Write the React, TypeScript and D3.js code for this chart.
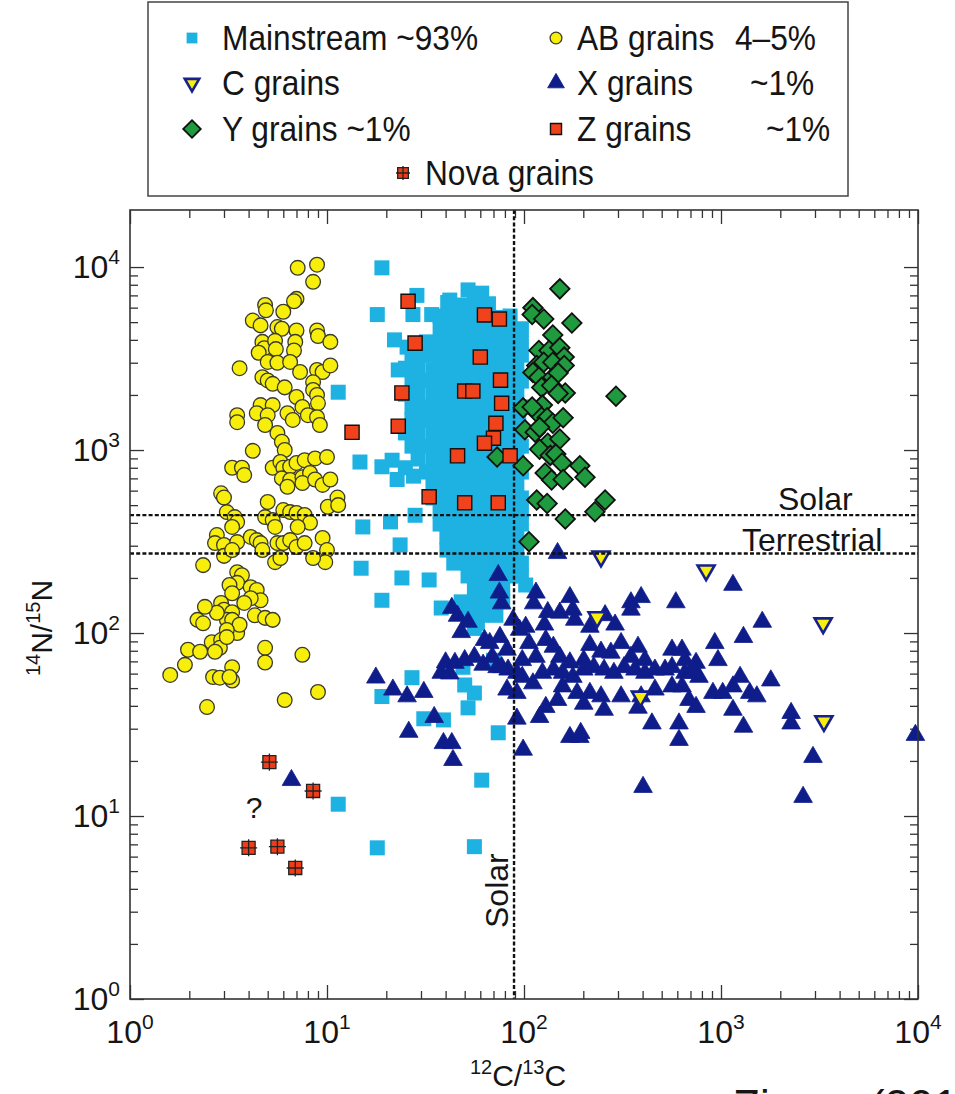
import { useEffect, useRef } from 'react';
import * as d3 from 'd3';

// each grain: [12C/13C, 14N/15N]
type Grain = [number, number];

const mainstream: Grain[] = [
  [52, 7500], [61, 7200],
  [41, 6400], [48, 6200], [56, 6500], [66, 6300],
  [37.5, 5400], [44, 5300], [52, 5500], [61, 5400], [72, 5300], [85, 5400],
  [37.5, 4600], [44, 4500], [52, 4600], [61, 4550], [72, 4600], [85, 4500], [97, 4600],
  [32, 3900], [37.5, 3850], [44, 3900], [52, 3900], [61, 3850], [72, 3900], [85, 3900], [97, 3850],
  [27, 3300], [32, 3300], [37.5, 3250], [44, 3300], [52, 3300], [61, 3300], [72, 3250], [85, 3300], [97, 3300],
  [25, 2800], [29, 2800], [34.5, 2750], [40.6, 2800], [48, 2800], [56, 2780], [66, 2800], [78, 2800], [92, 2800],
  [27, 2380], [32, 2400], [37.5, 2380], [44, 2380], [52, 2350], [61, 2380], [72, 2380], [85, 2380], [97, 2380],
  [25, 2020], [29, 2000], [34.5, 2020], [40.6, 2020], [48, 2020], [56, 2000], [66, 2020], [78, 2020], [92, 2020],
  [27, 1720], [32, 1720], [37.5, 1700], [44, 1720], [52, 1720], [61, 1720], [72, 1700], [85, 1720], [97, 1720],
  [27, 1460], [32, 1460], [37.5, 1460], [44, 1440], [52, 1460], [61, 1460], [72, 1460], [85, 1460], [94, 1460],
  [25, 1240], [29, 1240], [34.5, 1240], [40.6, 1220], [48, 1240], [56, 1240], [66, 1240], [78, 1240], [92, 1240],
  [27, 1050], [32, 1050], [37.5, 1050], [44, 1040], [52, 1050], [61, 1050], [72, 1050], [85, 1050], [97, 1050],
  [29, 893], [34.5, 890], [40.6, 893], [48, 893], [56, 880], [66, 893], [78, 893], [92, 893],
  [32, 758], [37.5, 758], [44, 760], [52, 758], [61, 758], [72, 750], [85, 758], [97, 758],
  [34.5, 644], [40.6, 644], [48, 640], [56, 644], [66, 644], [78, 644], [92, 644],
  [34.5, 547], [40.6, 547], [48, 547], [56, 540], [66, 547], [78, 547], [92, 547], [97, 547],
  [37.5, 464], [44, 464], [52, 464], [61, 460], [72, 464], [85, 464], [97, 464],
  [37.5, 394], [44, 394], [52, 390], [61, 394], [72, 394], [85, 394], [97, 394],
  [40.6, 335], [48, 335], [56, 335], [66, 330], [78, 335], [92, 335],
  [40.6, 284], [48, 284], [56, 284], [66, 284], [78, 280], [92, 284],
  [44, 241], [52, 241], [61, 241], [72, 241], [85, 241], [97, 241],
  [52, 205], [61, 205], [72, 205], [85, 205], [97, 205],
  [56, 174], [66, 174], [78, 174],
  [48, 148], [56, 148], [66, 148], [78, 148],
  [52, 125], [61, 125], [72, 125],
  [56, 106],
  // scattered grains
  [19, 9900], [18, 5500], [28.6, 7000], [27.3, 5500], [34, 5500], [42, 6600], [25.5, 3650],
  [22, 4000], [23, 2740], [11.4, 2070], [14.7, 860], [21.4, 880], [19, 810], [22.7, 690],
  [25, 800], [27.5, 720], [28, 440], [15.2, 380], [21, 405], [23.5, 303], [14.9, 226],
  [19, 151], [33, 195], [38, 137], [24, 200], [58, 113], [102, 183], [27, 57], [19, 45],
  [31, 34], [39, 33.5], [50, 52], [56, 47], [52, 39], [49, 65], [70, 71], [74, 28.5],
  [61, 15.7], [11.4, 11.6], [18, 6.7], [56, 6.8],
];

const abGrains: Grain[] = [
  [7.1, 9900], [8.9, 10300], [8.5, 8300], [7.0, 6700], [6.8, 6500], [4.85, 6200], [4.9, 5800],
  [6.0, 5700], [4.2, 5100], [4.6, 4800], [5.6, 4700], [5.9, 4600], [7.0, 4500], [8.9, 4500],
  [9.0, 4200], [10.4, 3900], [3.6, 2800], [4.7, 3900], [4.8, 3600], [5.45, 3950], [5.5, 3560],
  [6.9, 3900], [6.8, 3500], [4.5, 3400], [5.0, 3030], [5.6, 3000], [6.5, 3030], [7.3, 2670],
  [8.9, 2740], [9.5, 2670], [10.4, 2900], [4.7, 2500], [5.0, 2400], [5.3, 2300], [6.1, 2200],
  [7.0, 1950], [8.5, 2350], [8.5, 2130], [8.9, 2000], [9.0, 1800], [3.5, 1550], [3.5, 1420],
  [4.6, 1760], [5.3, 1760], [4.4, 1590], [5.0, 1550], [6.3, 1590], [6.7, 1460], [7.5, 1720],
  [8.0, 1550], [8.9, 1510], [9.2, 1370], [4.85, 1370], [5.6, 1240], [5.9, 1110], [6.1, 1000],
  [4.2, 990], [5.3, 800], [5.8, 860], [6.0, 800], [6.5, 810], [7.0, 850], [7.7, 880], [8.7, 900],
  [10, 915], [3.3, 800], [3.7, 800], [3.8, 730], [5.9, 700], [6.5, 686], [6.3, 630], [7.5, 710],
  [8.2, 750], [7.5, 660], [8.7, 690], [9.5, 645], [10.4, 690], [2.9, 580], [3.0, 550], [5.0, 520],
  [10.1, 490], [11.3, 550], [11.4, 500], [3.1, 458], [3.4, 430], [3.5, 404], [3.3, 380],
  [4.85, 430], [5.3, 414], [5.45, 380], [6.0, 470], [6.5, 458], [7.0, 453], [7.7, 442], [8.2, 400],
  [7.1, 380], [2.76, 343], [2.7, 310], [3.0, 303], [3.5, 314], [4.1, 335], [4.4, 322], [4.6, 310],
  [4.7, 284], [5.6, 310], [6.0, 310], [6.5, 322], [7.0, 295], [7.7, 310], [5.45, 244], [5.8, 257],
  [9.5, 331], [10, 284], [9.8, 244], [8.5, 257], [2.35, 235], [3.0, 264], [3.3, 284], [3.5, 215],
  [3.7, 207], [3.5, 188], [3.2, 183], [3.3, 165], [4.1, 178], [4.4, 172], [4.6, 151], [4.1, 155],
  [3.8, 146], [2.9, 146], [3.0, 134], [3.3, 130], [3.1, 118], [2.76, 129], [2.4, 139], [2.2, 118],
  [2.35, 113], [3.3, 118], [3.5, 100], [3.6, 111], [3.1, 104], [4.3, 125], [4.85, 121], [5.3, 118],
  [2.6, 89], [2.9, 91.5], [2.86, 83], [3.1, 95], [1.97, 81], [2.27, 79], [2.7, 79], [1.9, 67],
  [1.6, 59], [2.64, 57.5], [2.86, 57], [3.3, 65], [3.3, 55], [3.2, 57.5], [4.85, 83], [4.85, 69],
  [7.5, 76], [2.46, 39.4], [6.1, 43], [9.0, 47.6],
];

const cGrains: Grain[] = [
  [246, 262], [840, 220], [235, 122], [3300, 113], [390, 45], [3330, 33],
];

const xGrains: Grain[] = [
  [17.7, 57], [21.6, 49], [25.5, 45], [31, 47.6], [35, 34.7], [26, 28.8], [39, 25], [43, 25],
  [43.6, 20.2], [43, 137], [46, 124], [52, 115], [48, 101], [74, 207], [75, 166], [77, 145],
  [40, 69], [44.6, 68.6], [50, 71], [56, 74], [62, 67], [42, 60], [67, 88], [75.5, 95], [82, 81],
  [88, 118], [95, 104], [73, 65], [83, 63], [92, 60.5], [82, 49], [92, 47], [92, 34], [99, 23],
  [115, 166], [112, 145], [171, 157], [177, 134], [181, 118], [216, 108], [349, 147], [393, 157],
  [349, 134], [590, 147], [1150, 183], [1620, 115], [1300, 95], [930, 88], [965, 71], [634, 81],
  [564, 81], [656, 71], [379, 84], [311, 88], [276, 78], [349, 74], [411, 71], [216, 86], [246, 79],
  [201, 71], [129, 91.5], [141, 84], [152, 74], [171, 69], [102, 108], [106, 88], [98, 71], [115, 74],
  [63, 91.5], [69, 74], [77, 65], [38, 60.5], [98, 57.5], [111, 53], [124, 60.5], [141, 63],
  [157, 60.5], [177, 57.5], [201, 63], [226, 65], [255, 63], [286, 60.5], [322, 65], [366, 63],
  [411, 60.5], [462, 63], [520, 63], [564, 65], [656, 60.5], [721, 63], [773, 57.5], [157, 51],
  [186, 47], [216, 47], [246, 45], [311, 45], [393, 45], [462, 49], [564, 51], [634, 51], [688, 43],
  [747, 39.4], [910, 47], [1020, 47], [1150, 51], [1250, 57.5], [1400, 47], [1520, 45], [1790, 55],
  [129, 39.4], [148, 43], [201, 41], [120, 34.7], [171, 27], [192, 27], [379, 39], [446, 32],
  [612, 32], [612, 26], [1300, 30.7], [2270, 36.5], [2270, 32], [2930, 21], [2610, 12.7], [402, 14.4],
  [9700, 27.7], [148, 273], [152, 129], [258, 125], [290, 111], [132, 130], [127, 111], [255, 38],
  [194, 28.4], [1150, 38], [747, 68.6], [730, 60.5], [6.6, 15.7],
];

const yGrains: Grain[] = [
  [152, 7600], [111, 6000], [110, 5500], [126, 5200], [175, 4950], [140, 4250], [119, 3500],
  [134, 3500], [152, 3620], [160, 3220], [116, 2900], [126, 3020], [140, 3020], [160, 2900],
  [111, 2650], [119, 2500], [140, 2500], [149, 2640], [123, 2200], [138, 2250], [162, 2050],
  [149, 2040], [293, 1970], [124, 1760], [116, 1610], [99, 1700], [110, 1720], [131, 1500],
  [140, 1400], [158, 1500], [101, 1290], [114, 1250], [120, 1330], [132, 1090], [152, 1150],
  [120, 1010], [136, 935], [145, 950], [156, 850], [99, 820], [192, 820], [128, 750], [138, 686],
  [158, 690], [204, 710], [73, 915], [116, 533], [131, 510], [162, 420], [258, 533], [229, 460],
  [106, 315],
];

const zGrains: Grain[] = [
  [25.8, 6500], [63, 5470], [75, 5200], [28, 3840], [60, 3220], [76, 2410], [24, 2050], [50, 2100],
  [55, 2100], [77, 1800], [13.4, 1250], [23, 1350], [72, 1400], [70, 1160], [63, 1090], [46, 930],
  [85, 930], [33, 555], [50, 515], [74, 515],
];

const novaGrains: Grain[] = [
  [5.1, 19.7], [8.5, 13.7], [4.0, 6.7], [5.6, 6.8], [6.9, 5.2],
];

const decades = [1, 10, 100, 1000, 10000];
const decadeExponents = ['0', '1', '2', '3', '4'];
const solarC = 89;
const solarN = 441;
const terrestrialN = 272;

const legendItems = [
  { key: 'mainstream', label: 'Mainstream ~93%', share: '' },
  { key: 'ab', label: 'AB grains', share: '4–5%' },
  { key: 'c', label: 'C grains', share: '' },
  { key: 'x', label: 'X grains', share: '~1%' },
  { key: 'y', label: 'Y grains ~1%', share: '' },
  { key: 'z', label: 'Z grains', share: '~1%' },
  { key: 'nova', label: 'Nova grains', share: '' },
];

const markers: Record<string, any> = {
  mainstream: { type: d3.symbolSquare, size: 225, fill: '#1db2e2', stroke: 'none', width: 0, rotate: 0 },
  ab: { type: d3.symbolCircle, size: 170, fill: '#f7ee0c', stroke: '#3a3a2a', width: 1.3, rotate: 0 },
  c: { type: d3.symbolTriangle, size: 125, fill: '#f7ee0c', stroke: '#16218e', width: 2.6, rotate: 180 },
  x: { type: d3.symbolTriangle, size: 150, fill: '#0f1d8b', stroke: '#0f1d8b', width: 0.8, rotate: 0 },
  y: { type: d3.symbolSquare, size: 190, fill: '#1f9a3e', stroke: '#111', width: 1.8, rotate: 45 },
  z: { type: d3.symbolSquare, size: 200, fill: '#f0421b', stroke: '#111', width: 1.4, rotate: 0 },
  nova: { type: d3.symbolSquare, size: 170, fill: '#ee3d18', stroke: '#222', width: 1.3, rotate: 0 },
};

const addMarker = (sel: any, key: string, scale: number) => {
  const m = markers[key];
  sel
    .append('path')
    .attr('d', d3.symbol(m.type, m.size * scale * scale)())
    .attr('transform', m.rotate ? `rotate(${m.rotate})` : null)
    .attr('fill', m.fill)
    .attr('stroke', m.stroke)
    .attr('stroke-width', m.width);
  if (key === 'nova') {
    const h = (Math.sqrt(m.size) / 2 + 2) * scale;
    sel
      .append('path')
      .attr('d', `M${-h},0H${h}M0,${-h}V${h}`)
      .attr('stroke', '#222')
      .attr('stroke-width', 1.3);
  }
};

const App = () => {
  const ref = useRef<SVGSVGElement>(null);

  useEffect(() => {
    document.body.style.margin = '0';
    const svg = d3.select(ref.current);
    svg.selectAll('*').remove();

    const left = 130;
    const right = 918;
    const top = 210;
    const bottom = 999;

    const x = d3.scaleLog().domain([1, 1e4]).range([left, right]);
    const y = d3.scaleLog().domain([1, 20500]).range([bottom, top]);

    const isDecade = (t: number) => Math.abs(Math.log10(t) - Math.round(Math.log10(t))) < 1e-6;
    const minorX = x.ticks().filter((t) => !isDecade(t) && t <= 1e4);
    const minorY = y.ticks().filter((t) => !isDecade(t) && t <= 1e4);

    // Ticks on all four sides, pointing inward
    const addAxis = (axis: any, transform: string) => {
      svg
        .append('g')
        .attr('transform', transform)
        .attr('color', '#333')
        .call(axis)
        .call((g: any) => g.select('.domain').remove())
        .call((g: any) => g.selectAll('text').remove())
        .call((g: any) => g.selectAll('line').attr('stroke-width', 1.3));
    };
    [
      [minorX, 8],
      [decades, 14],
    ].forEach(([vals, len]: any) => {
      addAxis(d3.axisBottom(x).tickValues(vals).tickSize(-len).tickSizeOuter(0), `translate(0,${bottom})`);
      addAxis(d3.axisTop(x).tickValues(vals).tickSize(-len).tickSizeOuter(0), `translate(0,${top})`);
    });
    [
      [minorY, 8],
      [decades, 14],
    ].forEach(([vals, len]: any) => {
      addAxis(d3.axisLeft(y).tickValues(vals).tickSize(-len).tickSizeOuter(0), `translate(${left},0)`);
      addAxis(d3.axisRight(y).tickValues(vals).tickSize(-len).tickSizeOuter(0), `translate(${right},0)`);
    });

    // Tick labels 10^n
    const fam = "'Liberation Sans', Arial, Helvetica, sans-serif";
    decades.forEach((d, i) => {
      const tx = svg
        .append('text')
        .attr('x', x(d))
        .attr('y', 1043)
        .attr('text-anchor', 'middle')
        .attr('font-family', fam)
        .attr('fill', '#151515');
      tx.append('tspan').attr('font-size', 32).text('10');
      tx.append('tspan').attr('font-size', 21).attr('dy', -14).text(decadeExponents[i]);

      const ty = svg
        .append('text')
        .attr('x', 120)
        .attr('y', y(d) + 11)
        .attr('text-anchor', 'end')
        .attr('font-family', fam)
        .attr('fill', '#151515');
      ty.append('tspan').attr('font-size', 32).text('10');
      ty.append('tspan').attr('font-size', 21).attr('dy', -14).text(decadeExponents[i]);
    });

    // Axis titles
    const xt = svg
      .append('text')
      .attr('x', 518)
      .attr('y', 1086)
      .attr('text-anchor', 'middle')
      .attr('font-family', fam)
      .attr('fill', '#151515');
    xt.append('tspan').attr('font-size', 20).attr('dy', -12).text('12');
    xt.append('tspan').attr('font-size', 30).attr('dy', 12).text('C/');
    xt.append('tspan').attr('font-size', 20).attr('dy', -12).text('13');
    xt.append('tspan').attr('font-size', 30).attr('dy', 12).text('C');

    const yt = svg
      .append('text')
      .attr('transform', 'translate(52,628) rotate(-90)')
      .attr('text-anchor', 'middle')
      .attr('font-family', fam)
      .attr('fill', '#151515');
    yt.append('tspan').attr('font-size', 20).attr('dy', -12).text('14');
    yt.append('tspan').attr('font-size', 30).attr('dy', 12).text('N/');
    yt.append('tspan').attr('font-size', 20).attr('dy', -12).text('15');
    yt.append('tspan').attr('font-size', 30).attr('dy', 12).text('N');

    // Grains
    const drawSeries = (data: Grain[], key: string) => {
      svg
        .append('g')
        .selectAll('g')
        .data(data)
        .join('g')
        .attr('transform', (d) => `translate(${x(d[0])},${y(d[1])})`)
        .each(function () {
          addMarker(d3.select(this), key, 1);
        });
    };
    drawSeries(mainstream, 'mainstream');
    drawSeries(abGrains, 'ab');
    drawSeries(xGrains, 'x');
    drawSeries(cGrains, 'c');

    // Solar and terrestrial reference lines
    const dash = (sel: any) => sel.attr('stroke', '#111').attr('stroke-width', 2.4).attr('stroke-dasharray', '4 2.2');
    svg.append('line').attr('x1', x(solarC)).attr('x2', x(solarC)).attr('y1', top).attr('y2', bottom).call(dash);
    [solarN, terrestrialN].forEach((v) => {
      svg.append('line').attr('x1', left).attr('x2', right).attr('y1', y(v)).attr('y2', y(v)).call(dash);
    });

    drawSeries(yGrains, 'y');
    drawSeries(zGrains, 'z');
    drawSeries(novaGrains, 'nova');

    const label = (txt: string, tx: number, ty: number, size: number, rot = 0, anchor = 'start') =>
      svg
        .append('text')
        .attr('transform', `translate(${tx},${ty})${rot ? ` rotate(${rot})` : ''}`)
        .attr('text-anchor', anchor)
        .attr('font-family', fam)
        .attr('font-size', size)
        .attr('fill', '#151515')
        .text(txt);
    label('Solar', 778, 510, 32);
    label('Terrestrial', 742, 551, 32);
    label('Solar', 508, 928, 32, -90);
    label('?', 254, 818, 30, 0, 'middle');
    label('Zinner (2014)', 733, 1121, 44);

    // Frame
    svg
      .append('rect')
      .attr('x', left)
      .attr('y', top)
      .attr('width', right - left)
      .attr('height', bottom - top)
      .attr('fill', 'none')
      .attr('stroke', '#333')
      .attr('stroke-width', 1.6);

    // Legend
    svg
      .append('rect')
      .attr('x', 148)
      .attr('y', 2)
      .attr('width', 700)
      .attr('height', 194)
      .attr('fill', '#fff')
      .attr('stroke', '#444')
      .attr('stroke-width', 1.5);

    const rowY = [38, 83, 129, 173];
    const layout: Record<string, number[]> = {
      mainstream: [192, 222, 0, 0],
      ab: [556, 577, 0, 735],
      c: [192, 222, 1, 0],
      x: [556, 577, 1, 750],
      y: [192, 222, 2, 0],
      z: [556, 577, 2, 766],
      nova: [403, 425, 3, 0],
    };
    const legendScale: Record<string, number> = {
      mainstream: 0.72, ab: 0.8, c: 0.85, x: 0.9, y: 0.9, z: 0.78, nova: 0.82,
    };
    legendItems.forEach((item) => {
      const [mx, tx, row, sx] = layout[item.key];
      const cy = rowY[row];
      const g = svg.append('g').attr('transform', `translate(${mx},${cy})`);
      addMarker(g, item.key, legendScale[item.key]);
      const text = (s: string, px: number) =>
        svg
          .append('text')
          .attr('transform', `translate(${px},${cy + 12}) scale(0.88,1)`)
          .attr('font-family', fam)
          .attr('font-size', 36)
          .attr('fill', '#151515')
          .text(s);
      text(item.label, tx);
      if (item.share) text(item.share, sx);
    });
  }, []);

  return <svg ref={ref} width={955} height={1094} style={{ display: 'block', background: '#fff' }} />;
};

export default App;
